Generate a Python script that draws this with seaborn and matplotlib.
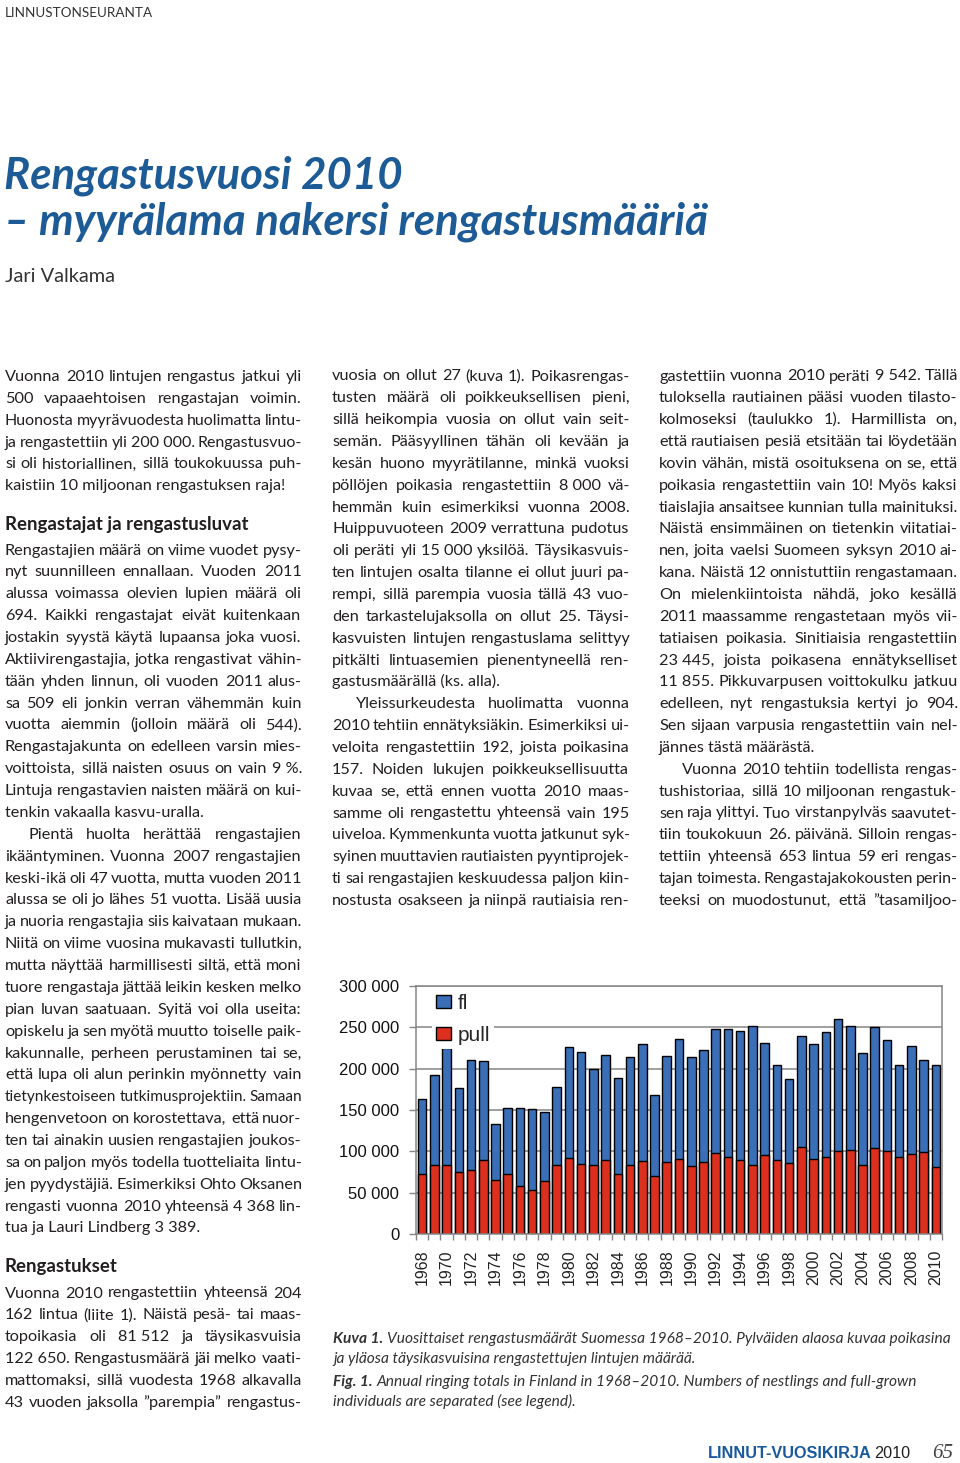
import numpy as np
import pandas as pd
import matplotlib
matplotlib.use("Agg")
import matplotlib.pyplot as plt
import seaborn as sns
from matplotlib.patches import Patch

# ---------------- chart data ----------------
years = list(range(1968, 2011))
pull = [73000, 83000, 83000, 75000, 77000, 89000, 65000, 72000, 58000, 53000, 64000, 83000,
        92000, 85000, 83000, 90000, 73000, 83000, 88000, 70000, 87000, 91000, 82000, 87000,
        98000, 93000, 89000, 83000, 96000, 90000, 86000, 105000, 91000, 93000, 100000, 102000,
        84000, 104000, 100000, 93000, 97000, 99000, 81512]
fl = [90000, 109000, 142000, 102000, 134000, 120000, 68000, 81000, 95000, 98000, 83000, 95000,
      134000, 135000, 117000, 127000, 116000, 131000, 142000, 98000, 128000, 145000, 132000, 135000,
      150000, 155000, 156000, 169000, 135000, 114000, 101000, 135000, 139000, 151000, 160000, 150000,
      135000, 146000, 135000, 112000, 130000, 111000, 122650]
ytick_values = [0, 50000, 100000, 150000, 200000, 250000, 300000]
legend_labels = ["fl", "pull"]

# ---------------- page text ----------------
header_text = "LINNUSTONSEURANTA"
title_lines = ["Rengastusvuosi 2010", "– myyrälama nakersi rengastusmääriä"]
byline = "Jari Valkama"
NB = "\u00a0"

paraA = ["Vuonna 2010 lintujen rengastus jatkui yli",
         "500 vapaaehtoisen rengastajan voimin.",
         "Huonosta myyrävuodesta huolimatta lintu-",
         f"ja rengastettiin yli 200{NB}000. Rengastusvuo-",
         "si oli historiallinen, sillä toukokuussa puh-",
         "kaistiin 10 miljoonan rengastuksen raja!"]
head1 = "Rengastajat ja rengastusluvat"
paraB = ["Rengastajien määrä on viime vuodet pysy-",
         "nyt suunnilleen ennallaan. Vuoden 2011",
         "alussa voimassa olevien lupien määrä oli",
         "694. Kaikki rengastajat eivät kuitenkaan",
         "jostakin syystä käytä lupaansa joka vuosi.",
         "Aktiivirengastajia, jotka rengastivat vähin-",
         "tään yhden linnun, oli vuoden 2011 alus-",
         "sa 509 eli jonkin verran vähemmän kuin",
         "vuotta aiemmin (jolloin määrä oli 544).",
         "Rengastajakunta on edelleen varsin mies-",
         f"voittoista, sillä naisten osuus on vain 9{NB}%.",
         "Lintuja rengastavien naisten määrä on kui-",
         "tenkin vakaalla kasvu-uralla."]
paraC = ["Pientä huolta herättää rengastajien",
         "ikääntyminen. Vuonna 2007 rengastajien",
         "keski-ikä oli 47 vuotta, mutta vuoden 2011",
         "alussa se oli jo lähes 51 vuotta. Lisää uusia",
         "ja nuoria rengastajia siis kaivataan mukaan.",
         "Niitä on viime vuosina mukavasti tullutkin,",
         "mutta näyttää harmillisesti siltä, että moni",
         "tuore rengastaja jättää leikin kesken melko",
         "pian luvan saatuaan. Syitä voi olla useita:",
         "opiskelu ja sen myötä muutto toiselle paik-",
         "kakunnalle, perheen perustaminen tai se,",
         "että lupa oli alun perinkin myönnetty vain",
         "tietynkestoiseen tutkimusprojektiin. Samaan",
         "hengenvetoon on korostettava, että nuor-",
         "ten tai ainakin uusien rengastajien joukos-",
         "sa on paljon myös todella tuotteliaita lintu-",
         "jen pyydystäjiä. Esimerkiksi Ohto Oksanen",
         f"rengasti vuonna 2010 yhteensä 4{NB}368 lin-",
         f"tua ja Lauri Lindberg 3{NB}389."]
head2 = "Rengastukset"
paraD = ["Vuonna 2010 rengastettiin yhteensä 204",
         "162 lintua (liite 1). Näistä pesä- tai maas-",
         f"topoikasia oli 81{NB}512 ja täysikasvuisia",
         f"122{NB}650. Rengastusmäärä jäi melko vaati-",
         "mattomaksi, sillä vuodesta 1968 alkavalla",
         "43 vuoden jaksolla ”parempia” rengastus-"]
paraE = ["vuosia on ollut 27 (kuva 1). Poikasrengas-",
         "tusten määrä oli poikkeuksellisen pieni,",
         "sillä heikompia vuosia on ollut vain seit-",
         "semän. Pääsyyllinen tähän oli kevään ja",
         "kesän huono myyrätilanne, minkä vuoksi",
         f"pöllöjen poikasia rengastettiin 8{NB}000 vä-",
         "hemmän kuin esimerkiksi vuonna 2008.",
         "Huippuvuoteen 2009 verrattuna pudotus",
         f"oli peräti yli 15{NB}000 yksilöä. Täysikasvuis-",
         "ten lintujen osalta tilanne ei ollut juuri pa-",
         "rempi, sillä parempia vuosia tällä 43 vuo-",
         "den tarkastelujaksolla on ollut 25. Täysi-",
         "kasvuisten lintujen rengastuslama selittyy",
         "pitkälti lintuasemien pienentyneellä ren-",
         "gastusmäärällä (ks. alla)."]
paraF = ["Yleissurkeudesta huolimatta vuonna",
         "2010 tehtiin ennätyksiäkin. Esimerkiksi ui-",
         "veloita rengastettiin 192, joista poikasina",
         "157. Noiden lukujen poikkeuksellisuutta",
         "kuvaa se, että ennen vuotta 2010 maas-",
         "samme oli rengastettu yhteensä vain 195",
         "uiveloa. Kymmenkunta vuotta jatkunut syk-",
         "syinen muuttavien rautiaisten pyyntiprojek-",
         "ti sai rengastajien keskuudessa paljon kiin-",
         "nostusta osakseen ja niinpä rautiaisia ren-"]
paraG = [f"gastettiin vuonna 2010 peräti 9{NB}542. Tällä",
         "tuloksella rautiainen pääsi vuoden tilasto-",
         "kolmoseksi (taulukko 1). Harmillista on,",
         "että rautiaisen pesiä etsitään tai löydetään",
         "kovin vähän, mistä osoituksena on se, että",
         "poikasia rengastettiin vain 10! Myös kaksi",
         "tiaislajia ansaitsee kunnian tulla mainituksi.",
         "Näistä ensimmäinen on tietenkin viitatiai-",
         "nen, joita vaelsi Suomeen syksyn 2010 ai-",
         "kana. Näistä 12 onnistuttiin rengastamaan.",
         "On mielenkiintoista nähdä, joko kesällä",
         "2011 maassamme rengastetaan myös vii-",
         "tatiaisen poikasia. Sinitiaisia rengastettiin",
         f"23{NB}445, joista poikasena ennätykselliset",
         f"11{NB}855. Pikkuvarpusen voittokulku jatkuu",
         "edelleen, nyt rengastuksia kertyi jo 904.",
         "Sen sijaan varpusia rengastettiin vain nel-",
         "jännes tästä määrästä."]
paraH = ["Vuonna 2010 tehtiin todellista rengas-",
         "tushistoriaa, sillä 10 miljoonan rengastuk-",
         "sen raja ylittyi. Tuo virstanpylväs saavutet-",
         "tiin toukokuun 26. päivänä. Silloin rengas-",
         "tettiin yhteensä 653 lintua 59 eri rengas-",
         "tajan toimesta. Rengastajakokousten perin-",
         "teeksi on muodostunut, että ”tasamiljoo-"]
caption = [("Kuva 1.", " Vuosittaiset rengastusmäärät Suomessa 1968–2010. Pylväiden alaosa kuvaa poikasina"),
           ("", "ja yläosa täysikasvuisina rengastettujen lintujen määrää."),
           ("Fig. 1.", " Annual ringing totals in Finland in 1968–2010. Numbers of nestlings and full-grown"),
           ("", "individuals are separated (see legend).")]

# ---------------- setup ----------------
W, H = 960, 1463
sns.set_theme(style="white")
plt.rcParams["font.family"] = ["Lato", "DejaVu Sans"]
fig = plt.figure(figsize=(W / 100, H / 100), dpi=100)
fig.patch.set_facecolor("white")
R = fig.canvas.get_renderer()

TXT = "#231f20"
BLUE_T = "#1d5b96"
FAM = ["Lato", "DejaVu Sans"]


def T(x, yb, s, size, ha="left", **kw):
    return fig.text(x / W, 1 - yb / H, s, fontsize=size, ha=ha, va="baseline", **kw)


def width(s, size, **kw):
    t = T(0, 500, s, size, **kw)
    w = t.get_window_extent(R).width
    t.remove()
    return w


def fit(s, target, **kw):
    return 10.0 * target / width(s, 10.0, **kw)


# ---------------- body layout ----------------
INDENT = 23
lines = []  # (x0, w, yb, text, justify)


def add(col_x, col_w, y0, pitch, paras):
    k = 0
    for texts, indent, cont in paras:
        for i, s in enumerate(texts):
            last = i == len(texts) - 1
            x0 = col_x + (INDENT if (indent and i == 0) else 0)
            w = col_w - (x0 - col_x)
            lines.append((x0, w, y0 + k * pitch, s, (not last) or cont))
            k += 1


P1 = 21.87
add(5, 297, 381, P1, [(paraA, False, False)])
add(5, 297, 554.5, P1, [(paraB, False, False), (paraC, True, False)])
add(5, 297, 1297.5, P1, [(paraD, False, True)])
add(332, 298, 380.5, 21.85, [(paraE, False, False), (paraF, True, True)])
add(659, 299, 380.5, 21.85, [(paraG, False, False), (paraH, True, True)])

BODY = dict(color=TXT, family=FAM)
ref = 10.0
cache = {}
MINGAP = 2.9


def wref(word):
    if word not in cache:
        cache[word] = width(word, ref, **BODY)
    return cache[word]


def line_max(w, ws):
    sw = sum(wref(t) for t in ws)
    return ref * (w - (len(ws) - 1) * MINGAP) / sw


sizes = []
for x0, w, yb, s, just in lines:
    ws = s.split(" ")
    if just and len(ws) > 1:
        sizes.append(line_max(w, ws))
body_size = min(float(np.percentile(sizes, 15)), 12.5)

for x0, w, yb, s, just in lines:
    ws = s.split(" ")
    if not just or len(ws) == 1:
        T(x0, yb, s, body_size, **BODY)
        continue
    size = min(body_size, line_max(w, ws))
    scale = size / ref
    wds = [wref(t) * scale for t in ws]
    gap = (w - sum(wds)) / (len(ws) - 1)
    x = x0
    for t, wd in zip(ws, wds):
        T(x, yb, t, size, **BODY)
        x += wd + gap

# headings
HB = dict(color=TXT, family=FAM, weight="bold")
hs = fit(head1, 243, **HB)
T(5, 530, head1, hs, **HB)
T(5, 1272, head2, hs, **HB)

# header, title, byline
hdr = dict(color="#333333", family=FAM)
T(5, 17, header_text, fit(header_text, 147, **hdr), **hdr)
TT = dict(color=BLUE_T, family=FAM, weight="bold", style="italic")
ts = fit(title_lines[1], 703, **TT)
T(4, 188, title_lines[0], ts, **TT)
T(4, 234, title_lines[1], ts, **TT)
BY = dict(color="#333333", family=FAM)
T(5, 282, byline, fit(byline, 110, **BY), **BY)

# caption
CI = dict(color="#333333", family=FAM, style="italic")
CB = dict(color="#333333", family=FAM, style="italic", weight="bold")
b0, r0 = caption[0]
cw = width(b0, 10, **CB) + width(r0.strip(), 10, **CI) + width("a a", 10, **CI) - width("aa", 10, **CI)
cs = 10 * 618 / cw
sp = (width("a a", cs, **CI) - width("aa", cs, **CI))
for (b, r), yb in zip(caption, [1343, 1363, 1386, 1406]):
    x = 333
    if b:
        T(x, yb, b, cs, **CB)
        x += width(b, cs, **CB) + sp
    T(x, yb, r.strip(), cs, **CI)

# footer
FB = dict(color="#1a5a9c", family=["Liberation Sans", "DejaVu Sans"], weight="bold")
fs_ = fit("LINNUT-VUOSIKIRJA", 162, **FB)
T(708, 1458, "LINNUT-VUOSIKIRJA", fs_, **FB)
T(874, 1458, "2010", fs_, color="#222222", family=["Liberation Sans", "DejaVu Sans"])
T(953, 1458, "65", fs_ * 1.3, ha="right", color="#444444",
  family=["Liberation Serif", "DejaVu Serif"], style="italic")

# ---------------- chart ----------------
BLUE = "#3a6eb6"
RED = "#dc2f1d"
GRAY = "#858585"
df = pd.DataFrame({"year": [str(y) for y in years], "pull": pull, "fl": fl})
df["total"] = df["pull"] + df["fl"]

ax = fig.add_axes([416 / W, 1 - 1234 / H, (942 - 416) / W, (1234 - 986) / H])
ax.set_axisbelow(True)
sns.barplot(data=df, x="year", y="total", color=BLUE, saturation=1, edgecolor="black",
            linewidth=1.0, width=0.7, errorbar=None, ax=ax)
sns.barplot(data=df, x="year", y="pull", color=RED, saturation=1, edgecolor="black",
            linewidth=1.0, width=0.7, errorbar=None, ax=ax)
ax.set_xlim(-0.5, len(years) - 0.5)
ax.set_ylim(0, 300000)
ax.set_xlabel("")
ax.set_ylabel("")
ax.set_yticks(ytick_values)
ax.set_yticklabels([f"{v:,}".replace(",", " ") for v in ytick_values])
ax.set_xticks(range(len(years)))
ax.set_xticklabels([str(y) if y % 2 == 0 else "" for y in years], rotation=90)
ax.set_xticks(np.arange(-0.5, len(years), 1), minor=True)
ax.tick_params(axis="x", which="major", length=0, pad=11, labelsize=11.5, labelcolor="#222222")
ax.tick_params(axis="x", which="minor", length=4, width=1, color=GRAY, direction="out", bottom=True)
ax.tick_params(axis="y", which="major", length=5, width=1, color=GRAY, direction="out",
               pad=7, labelsize=12, labelcolor="#111111", left=True)
for lbl in ax.get_xticklabels() + ax.get_yticklabels():
    lbl.set_fontfamily(["Liberation Sans", "DejaVu Sans"])
ax.yaxis.grid(True, color=GRAY, linewidth=1.1)
ax.xaxis.grid(False)
for sp_ in ax.spines.values():
    sp_.set_visible(True)
    sp_.set_color(GRAY)
    sp_.set_linewidth(1.1)
ax.set_facecolor("white")

handles = [Patch(facecolor=BLUE, edgecolor="black", linewidth=1.0, label=legend_labels[0]),
           Patch(facecolor=RED, edgecolor="black", linewidth=1.0, label=legend_labels[1])]
leg = ax.legend(handles=handles, loc="upper left", bbox_to_anchor=(0.03, 0.985),
                frameon=True, fancybox=False, edgecolor="none", facecolor="white", framealpha=1,
                prop={"family": ["Liberation Sans", "DejaVu Sans"], "size": 15},
                handlelength=0.7, handleheight=0.62, handletextpad=0.35, labelspacing=0.62,
                borderpad=0.2, borderaxespad=0)

fig.savefig("out.png", dpi=100, facecolor="white")
